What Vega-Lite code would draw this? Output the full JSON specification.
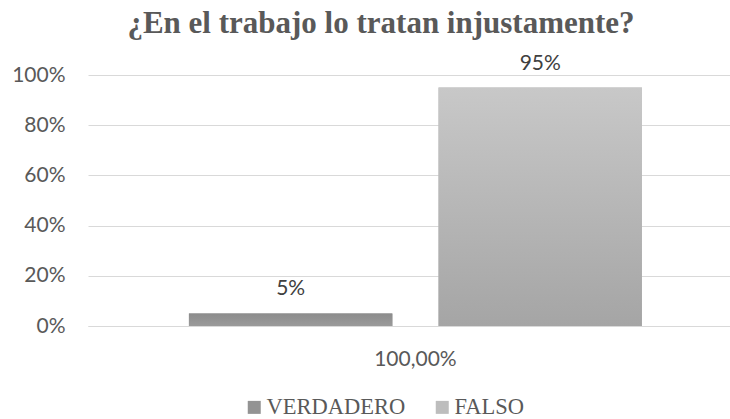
{
  "$schema": "https://vega.github.io/schema/vega-lite/v6.json",
  "autosize": {"type": "none"},
  "width": 642,
  "height": 251,
  "padding": {"left": 88, "top": 75, "right": 0, "bottom": 93},
  "background": "white",
  "config": {"view": {"stroke": null}},
  "title": {
    "text": "¿En el trabajo lo tratan injustamente?",
    "font": "Liberation Serif",
    "fontSize": 31,
    "fontWeight": "bold",
    "color": "#595959",
    "anchor": "middle",
    "dx": -28,
    "offset": 13
  },
  "data": {
    "values": [
      {"grupo": "100,00%", "respuesta": "VERDADERO", "valor": 0.05},
      {"grupo": "100,00%", "respuesta": "FALSO", "valor": 0.95}
    ]
  },
  "encoding": {
    "x": {
      "field": "grupo",
      "type": "nominal",
      "scale": {"paddingInner": 0, "paddingOuter": 0.2086, "align": 0.534},
      "axis": {
        "title": null,
        "labelAngle": 0,
        "labelFont": "Lato",
        "labelFontSize": 21,
        "labelColor": "#595959",
        "labelPadding": 22,
        "ticks": false,
        "domainColor": "#d9d9d9",
        "domainWidth": 1
      }
    },
    "xOffset": {
      "field": "respuesta",
      "type": "nominal",
      "sort": ["VERDADERO", "FALSO"],
      "scale": {"paddingInner": 0.185, "paddingOuter": 0}
    },
    "y": {
      "field": "valor",
      "type": "quantitative",
      "scale": {"domain": [0, 1], "nice": false},
      "axis": {
        "title": null,
        "format": ".0%",
        "values": [0, 0.2, 0.4, 0.6, 0.8, 1],
        "labelFont": "Lato",
        "labelFontSize": 21,
        "labelColor": "#595959",
        "labelPadding": 23,
        "ticks": false,
        "domain": false,
        "gridColor": "#d9d9d9",
        "gridWidth": 1
      }
    }
  },
  "layer": [
    {
      "mark": {"type": "bar"},
      "encoding": {
        "fill": {
          "field": "respuesta",
          "type": "nominal",
          "sort": ["VERDADERO", "FALSO"],
          "scale": {
            "domain": ["VERDADERO", "FALSO"],
            "range": ["#939393", "#bdbdbd"]
          },
          "legend": {
            "title": null,
            "orient": "none",
            "legendX": 155,
            "legendY": 321,
            "padding": 0,
            "direction": "horizontal",
            "symbolType": "square",
            "symbolSize": 169,
            "symbolStrokeWidth": 0,
            "labelFont": "Liberation Serif",
            "labelFontSize": 22.5,
            "labelColor": "#595959",
            "columnPadding": 25,
            "labelOffset": 1
          }
        }
      }
    },
    {
      "transform": [{"filter": "datum.respuesta === 'VERDADERO'"}],
      "mark": {
        "type": "bar",
        "color": {"gradient": "linear", "x1": 0, "y1": 0, "x2": 0, "y2": 1, "stops": [{"offset": 0, "color": "#8c8c8c"}, {"offset": 1, "color": "#9a9a9a"}]}
      }
    },
    {
      "transform": [{"filter": "datum.respuesta === 'FALSO'"}],
      "mark": {
        "type": "bar",
        "color": {"gradient": "linear", "x1": 0, "y1": 0, "x2": 0, "y2": 1, "stops": [{"offset": 0, "color": "#c8c8c8"}, {"offset": 1, "color": "#a5a5a5"}]}
      }
    },
    {
      "mark": {"type": "text", "baseline": "alphabetic", "dy": -18, "font": "Lato", "fontSize": 21, "color": "#404040"},
      "encoding": {
        "text": {"field": "valor", "type": "quantitative", "format": ".0%"}
      }
    }
  ]
}
